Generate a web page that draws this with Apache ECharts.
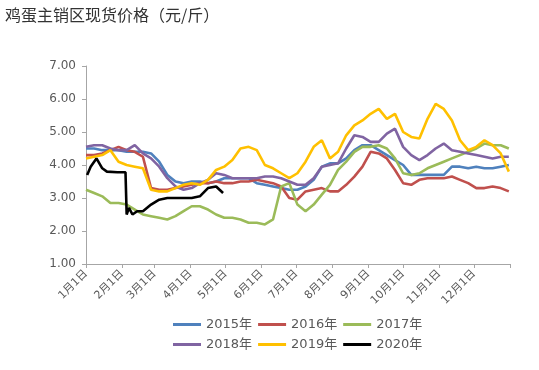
<!DOCTYPE html>
<html><head><meta charset="utf-8">
<script src="https://cdn.jsdelivr.net/npm/echarts@6/dist/echarts.min.js"></script>
<style>html,body{margin:0;padding:0;background:#fff}#c{width:539px;height:370px}</style>
</head><body><div id="c"></div>
<script>
// day-of-year sample positions (weekly)
const days = [0,7,14,21,28,35,42,49,56,63,70,77,84,91,98,105,112,119,126,133,140,147,154,161,168,175,182,189,196,203,210,217,224,231,238,245,252,259,266,273,280,287,294,301,308,315,322,329,336,343,350,357,364];
const days2020 = [1,4,9,14,18,27,34,35,37,40,44,49,56,63,70,77,84,91,98,105,112,118];
const monthStarts = [0,31,59,90,120,151,181,212,243,273,304,334,365];
const monthLabels = ['1月1日','2月1日','3月1日','4月1日','5月1日','6月1日','7月1日','8月1日','9月1日','10月1日','11月1日','12月1日'];
const seriesNames = ['2015年','2016年','2017年','2018年','2019年','2020年'];
const seriesColors = ['#4F81BD','#C0504D','#9BBB59','#8064A2','#FFC000','#000000'];

const y2015 = [4.5,4.5,4.45,4.45,4.45,4.4,4.4,4.4,4.35,4.1,3.7,3.5,3.45,3.5,3.5,3.45,3.5,3.6,3.6,3.6,3.6,3.45,3.4,3.35,3.3,3.25,3.25,3.35,3.55,3.95,4.05,4.05,4.2,4.45,4.6,4.6,4.45,4.3,4.15,4.0,3.7,3.7,3.7,3.7,3.7,3.95,3.95,3.9,3.95,3.9,3.9,3.95,4.0];
const y2016 = [4.3,4.3,4.35,4.45,4.55,4.45,4.4,4.25,3.3,3.25,3.25,3.3,3.35,3.4,3.45,3.45,3.5,3.45,3.45,3.5,3.5,3.55,3.5,3.45,3.35,3.0,2.95,3.2,3.25,3.3,3.2,3.2,3.4,3.65,3.95,4.4,4.35,4.2,3.85,3.45,3.4,3.55,3.6,3.6,3.6,3.65,3.55,3.45,3.3,3.3,3.35,3.3,3.2];
const y2017 = [3.25,3.15,3.05,2.85,2.85,2.8,2.65,2.5,2.45,2.4,2.35,2.45,2.6,2.75,2.75,2.65,2.5,2.4,2.4,2.35,2.25,2.25,2.2,2.35,3.35,3.45,2.8,2.6,2.8,3.1,3.4,3.85,4.1,4.4,4.55,4.55,4.6,4.5,4.2,3.75,3.7,3.75,3.9,4.0,4.1,4.2,4.3,4.4,4.5,4.65,4.6,4.6,4.5];
const y2018 = [4.55,4.6,4.6,4.5,4.45,4.45,4.6,4.35,4.2,3.95,3.6,3.35,3.25,3.3,3.45,3.55,3.75,3.7,3.6,3.6,3.6,3.6,3.65,3.65,3.6,3.5,3.4,3.4,3.6,3.95,4.0,4.05,4.5,4.9,4.85,4.7,4.7,4.95,5.1,4.55,4.3,4.15,4.3,4.5,4.65,4.45,4.4,4.35,4.3,4.25,4.2,4.25,4.25];
const y2019 = [4.2,4.25,4.3,4.45,4.1,4.0,3.95,3.9,3.25,3.2,3.2,3.3,3.4,3.45,3.4,3.55,3.85,3.95,4.15,4.5,4.55,4.45,4.0,3.9,3.75,3.6,3.75,4.1,4.55,4.75,4.2,4.4,4.9,5.2,5.35,5.55,5.7,5.4,5.55,5.0,4.85,4.8,5.4,5.85,5.7,5.35,4.75,4.45,4.55,4.75,4.6,4.35,3.8];
const y2020 = [3.7,3.95,4.2,3.9,3.8,3.78,3.78,2.5,2.7,2.5,2.6,2.6,2.8,2.95,3.0,3.0,3.0,3.0,3.05,3.3,3.35,3.15];

const allValues = [y2015,y2016,y2017,y2018,y2019,y2020];
const allDays = [days,days,days,days,days,days2020];

const chart = echarts.init(document.getElementById('c'));
const font = '"DejaVu Sans","Noto Sans CJK SC",sans-serif';
const axisColor = '#a6a6a6';
const option = {
  animation: false,
  textStyle: {fontFamily: font},
  title: {
    text: '鸡蛋主销区现货价格（元/斤）', left: 0, top: 2,
    textStyle: {fontSize: 16, fontWeight: 'normal', color: '#333', fontFamily: '"Noto Sans CJK SC",sans-serif'}
  },
  grid: {left: 86, right: 29, top: 66, bottom: 106},
  xAxis: {
    type: 'value', min: 0, max: 365,
    splitLine: {show: false},
    axisLine: {lineStyle: {color: axisColor}},
    axisTick: {customValues: monthStarts, length: 4, lineStyle: {color: axisColor}},
    axisLabel: {
      customValues: monthStarts.slice(0, 12),
      formatter: v => monthLabels[monthStarts.indexOf(v)],
      rotate: 45, fontSize: 11, color: '#595959', margin: 8
    }
  },
  yAxis: {
    type: 'value', min: 1, max: 7, interval: 1,
    axisLine: {show: true, lineStyle: {color: axisColor}},
    axisTick: {show: true, length: 4, lineStyle: {color: axisColor}},
    splitLine: {show: false},
    axisLabel: {formatter: v => v.toFixed(2), fontSize: 12, color: '#595959', margin: 10}
  },
  legend: [
    {data: seriesNames.slice(0, 3), left: 168, top: 313, itemWidth: 28, itemHeight: 3, icon: 'rect', itemGap: 6,
     textStyle: {fontSize: 13, color: '#595959'}},
    {data: seriesNames.slice(3), left: 168, top: 333, itemWidth: 28, itemHeight: 3, icon: 'rect', itemGap: 6,
     textStyle: {fontSize: 13, color: '#595959'}}
  ],
  series: seriesNames.map((name, k) => ({
    name, type: 'line', showSymbol: false, symbol: 'none',
    color: seriesColors[k],
    lineStyle: {width: 2.6, color: seriesColors[k]},
    data: allValues[k].map((v, i) => [allDays[k][i], v])
  }))
};
chart.setOption(option);
</script>
</body></html>
